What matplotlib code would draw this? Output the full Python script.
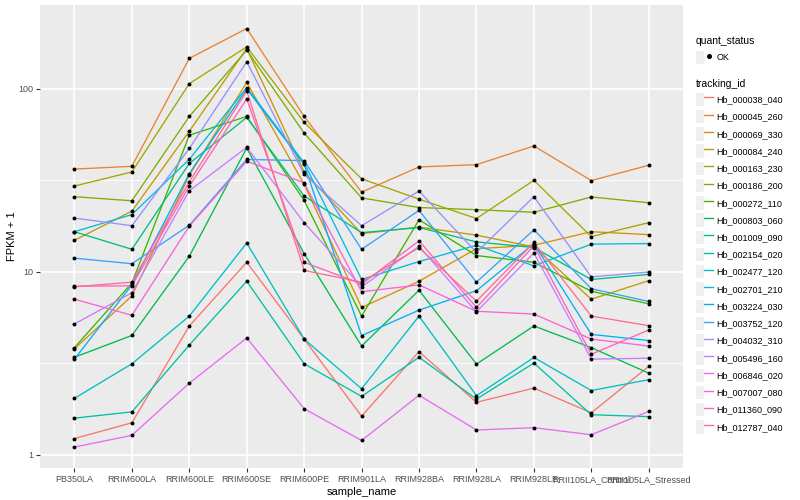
import matplotlib
matplotlib.use("Agg")
import matplotlib.pyplot as plt
from matplotlib.lines import Line2D
from matplotlib.patches import Rectangle
from matplotlib.legend_handler import HandlerTuple
from matplotlib.ticker import FixedLocator, NullFormatter

plt.rcParams['font.family'] = ['Liberation Sans', 'DejaVu Sans']

samples = ['PB350LA', 'RRIM600LA', 'RRIM600LE', 'RRIM600SE', 'RRIM600PE', 'RRIM901LA',
           'RRIM928BA', 'RRIM928LA', 'RRIM928LE', 'RRII105LA_Control', 'RRII105LA_Stressed']

tracking_ids = ['Hb_000038_040', 'Hb_000045_260', 'Hb_000069_330', 'Hb_000084_240',
                'Hb_000163_230', 'Hb_000186_200', 'Hb_000272_110', 'Hb_000803_060',
                'Hb_001009_090', 'Hb_002154_020', 'Hb_002477_120', 'Hb_002701_210',
                'Hb_003224_030', 'Hb_003752_120', 'Hb_004032_310', 'Hb_005496_160',
                'Hb_006846_020', 'Hb_007007_080', 'Hb_011360_090', 'Hb_012787_040']

# FPKM + 1 per gene, one value per sample
hb_000038_040 = [1.23, 1.5, 5.07, 11.3, 4.3, 1.63, 3.67, 1.94, 2.32, 1.7, 3.05]
hb_000045_260 = [36.5, 37.8, 147, 214, 70.8, 27.3, 37.5, 38.6, 48.8, 31.6, 38.3]
hb_000069_330 = [3.8, 7.4, 33.8, 108.7, 30.1, 6.4, 8.9, 13.4, 14.0, 16.6, 16.0]
hb_000084_240 = [14.9, 21.5, 58.8, 166.3, 35.2, 16.2, 17.6, 15.9, 13.7, 7.1, 8.97]
hb_000163_230 = [29.5, 35.2, 107, 169.8, 65.7, 32.3, 25.0, 19.6, 31.7, 15.6, 18.6]
hb_000186_200 = [25.8, 24.5, 70.8, 163, 57.4, 25.4, 22.5, 21.9, 21.2, 25.7, 23.9]
hb_000272_110 = [3.86, 8.7, 55.9, 70.8, 24.6, 5.74, 19.3, 12.3, 11.3, 7.85, 6.7]
hb_000803_060 = [3.42, 4.5, 12.2, 47.6, 12.6, 3.94, 7.95, 3.14, 5.07, 3.86, 2.8]
hb_001009_090 = [16.6, 13.3, 39.2, 69.9, 26.0, 16.4, 17.5, 14.6, 13.6, 9.1, 9.7]
hb_002154_020 = [1.59, 1.72, 3.99, 8.9, 3.15, 2.09, 3.42, 2.02, 3.18, 1.66, 1.62]
hb_002477_120 = [2.04, 3.15, 5.74, 14.4, 4.3, 2.3, 5.74, 2.11, 3.41, 2.25, 2.58]
hb_002701_210 = [16.6, 20.6, 41.3, 101.7, 39.5, 9.1, 11.4, 14.0, 10.8, 14.2, 14.3]
hb_003224_030 = [3.34, 8.5, 34.5, 100, 38.7, 4.49, 6.19, 7.9, 14.3, 4.56, 4.22]
hb_003752_120 = [11.9, 11.1, 18.0, 41.2, 40.6, 13.3, 21.7, 8.8, 17.0, 8.1, 6.9]
hb_004032_310 = [19.7, 17.9, 47.3, 140.8, 34.1, 17.9, 27.7, 12.8, 25.8, 9.4, 10.0]
hb_005496_160 = [5.2, 7.7, 27.8, 48.0, 18.6, 8.3, 13.8, 6.06, 12.7, 3.34, 3.38]
hb_006846_020 = [1.105, 1.28, 2.47, 4.36, 1.79, 1.2, 2.12, 1.37, 1.41, 1.29, 1.73]
hb_007007_080 = [7.1, 5.8, 17.8, 40.3, 30.7, 7.8, 8.5, 6.1, 5.89, 4.3, 3.94]
hb_011360_090 = [8.36, 8.4, 29.5, 88.2, 11.3, 8.6, 14.8, 6.4, 13.9, 3.55, 4.82]
hb_012787_040 = [8.3, 8.8, 31.1, 97.5, 10.2, 8.8, 13.6, 6.93, 14.5, 5.74, 5.09]

series = [hb_000038_040, hb_000045_260, hb_000069_330, hb_000084_240, hb_000163_230,
          hb_000186_200, hb_000272_110, hb_000803_060, hb_001009_090, hb_002154_020,
          hb_002477_120, hb_002701_210, hb_003224_030, hb_003752_120, hb_004032_310,
          hb_005496_160, hb_006846_020, hb_007007_080, hb_011360_090, hb_012787_040]

colors = ['#F8766D', '#EA8331', '#D89000', '#C09B00', '#A3A500', '#7CAE00', '#39B600',
          '#00BB4E', '#00BF7D', '#00C1A3', '#00BFC4', '#00BAE0', '#00B0F6', '#35A2FF',
          '#9590FF', '#C77CFF', '#E76BF3', '#FA62DB', '#FF62BC', '#FF6C91']

fig = plt.figure(figsize=(8, 5), dpi=100)
ax = fig.add_axes([0.05, 0.064, 0.804, 0.926])
ax.set_facecolor('#EBEBEB')
for s in ax.spines.values():
    s.set_visible(False)

xs = list(range(len(samples)))
for vals, col in zip(series, colors):
    ax.plot(xs, vals, color=col, lw=0.95, zorder=3)
for vals in series:
    ax.scatter(xs, vals, s=8, color='black', marker='o', zorder=4, linewidths=0)

ax.set_yscale('log')
ax.set_ylim(0.849, 287.7)
ax.set_xlim(-0.6, len(samples) - 0.4)
ax.yaxis.set_major_locator(FixedLocator([1, 10, 100]))
ax.set_yticklabels(['1', '10', '100'])
ax.yaxis.set_minor_locator(FixedLocator([10 ** 0.5, 10 ** 1.5]))
ax.yaxis.set_minor_formatter(NullFormatter())
ax.set_xticks(xs)
ax.set_xticklabels(samples)

ax.grid(True, which='major', color='white', lw=1.2, zorder=0)
ax.grid(True, which='minor', axis='y', color='white', lw=0.6, zorder=0)
ax.set_axisbelow(True)
ax.tick_params(axis='both', which='major', length=3, width=0.8, color='#333333',
               labelsize=6.5, labelcolor='#4D4D4D', pad=2)
ax.tick_params(axis='y', which='minor', length=0)

ax.set_xlabel('sample_name', fontsize=8, labelpad=2)
ax.set_ylabel('FPKM + 1', fontsize=8, labelpad=1)

# legends, ggplot style
key_bg = '#F0F0F0'
tuple_map = {tuple: HandlerTuple(ndivide=None, pad=0)}
qs_handle = (Rectangle((0, 0), 1, 1, facecolor=key_bg, edgecolor='none'),
             Line2D([], [], marker='o', ms=2.6, color='black', lw=0))
leg1 = fig.legend([qs_handle], ['OK'], title='quant_status', loc='upper left',
                  bbox_to_anchor=(0.862, 0.94), frameon=False, fontsize=6.5,
                  title_fontsize=7.5, handler_map=tuple_map,
                  handlelength=1.9, handleheight=1.9, handletextpad=0.4, borderpad=0.2)
leg1._legend_box.align = 'left'

tid_handles = [(Rectangle((0, 0), 1, 1, facecolor=key_bg, edgecolor='none'),
                Line2D([], [], color=c, lw=1.0)) for c in colors]
leg2 = fig.legend(tid_handles, tracking_ids, title='tracking_id', loc='upper left',
                  bbox_to_anchor=(0.862, 0.855), frameon=False, fontsize=6.5,
                  title_fontsize=7.5, handler_map=tuple_map,
                  handlelength=1.9, handleheight=1.9, handletextpad=0.4, labelspacing=0.43,
                  borderpad=0.2)
leg2._legend_box.align = 'left'

fig.savefig('out.png', dpi=100)
